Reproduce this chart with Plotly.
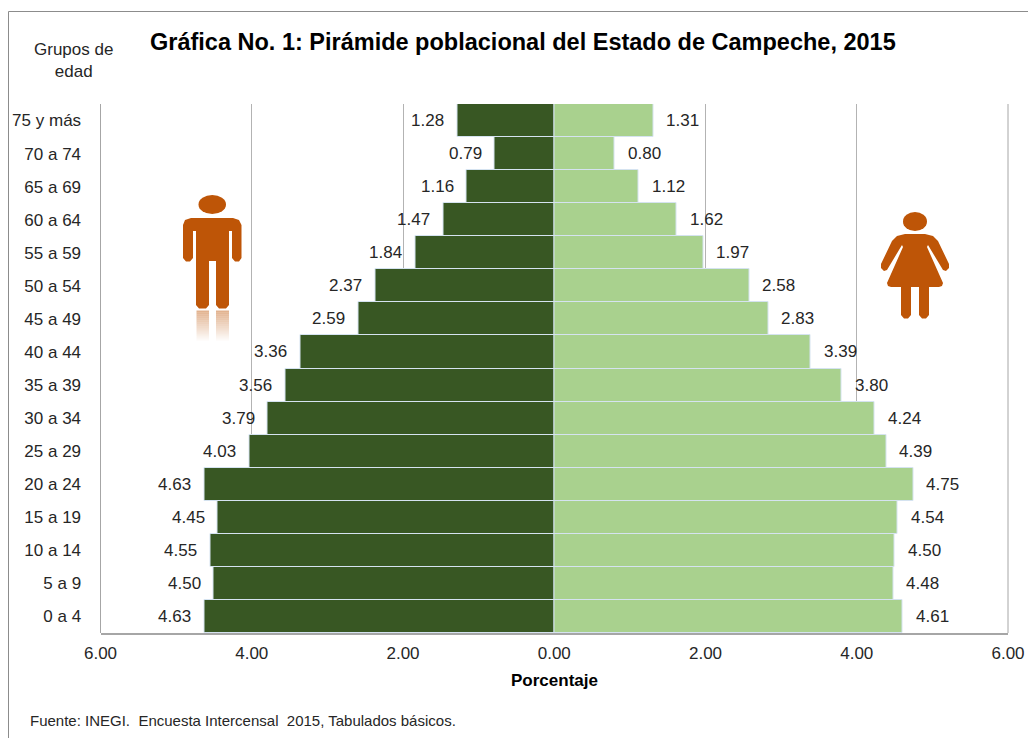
import plotly.graph_objects as go

W, H = 1028, 738

categories = ["0 a 4", "5 a 9", "10 a 14", "15 a 19", "20 a 24", "25 a 29", "30 a 34", "35 a 39",
              "40 a 44", "45 a 49", "50 a 54", "55 a 59", "60 a 64", "65 a 69", "70 a 74", "75 y más"]
hombres = [4.63, 4.50, 4.55, 4.45, 4.63, 4.03, 3.79, 3.56, 3.36, 2.59, 2.37, 1.84, 1.47, 1.16, 0.79, 1.28]
mujeres = [4.61, 4.48, 4.50, 4.54, 4.75, 4.39, 4.24, 3.80, 3.39, 2.83, 2.58, 1.97, 1.62, 1.12, 0.80, 1.31]
tick_values = [-6, -4, -2, 0, 2, 4, 6]
tick_labels = ["6.00", "4.00", "2.00", "0.00", "2.00", "4.00", "6.00"]

FONT = "Liberation Sans, Arial, sans-serif"
INK = "#262626"
ICON = "#BE5507"
DARK = "#385723"
LIGHT = "#A9D18E"
SIZE = 17


def px(x):
    return x / W


def py(y):
    return 1 - y / H


fig = go.Figure()
bar_line = dict(color="#D5E3F0", width=1)
fig.add_bar(y=categories, x=[-v for v in hombres], orientation="h", marker=dict(color=DARK, line=bar_line), name="Hombres")
fig.add_bar(y=categories, x=mujeres, orientation="h", marker=dict(color=LIGHT, line=bar_line), name="Mujeres")

annotations = []
for c, v in zip(categories, hombres):
    annotations.append(dict(x=-v, y=c, xref="x", yref="y", text=f"{v:.2f}", showarrow=False,
                            xanchor="right", xshift=-11, font=dict(size=SIZE, color=INK, family=FONT)))
for c, v in zip(categories, mujeres):
    annotations.append(dict(x=v, y=c, xref="x", yref="y", text=f"{v:.2f}", showarrow=False,
                            xanchor="left", xshift=11, font=dict(size=SIZE, color=INK, family=FONT)))


def note(x, y, text, size, weight="normal", color=INK, anchor="center"):
    annotations.append(dict(x=px(x), y=py(y), xref="paper", yref="paper", text=text, showarrow=False,
                            xanchor=anchor, yanchor="middle", align="center",
                            font=dict(size=size, color=color, family=FONT, weight=weight)))


note(523, 42, "Gráfica No. 1: Pirámide poblacional del Estado de Campeche, 2015", 23.5, "bold", "#000000")
note(73, 61, "Grupos de<br>edad", SIZE)
note(554, 680, "Porcentaje", SIZE, "bold", "#000000")
note(28, 720, "Fuente: INEGI.  Encuesta Intercensal  2015, Tabulados básicos.", 15, anchor="left")


def pshape(path):
    return dict(type="path", path=path, xref="paper", yref="paper", fillcolor=ICON, line=dict(width=0), layer="above")


def P(x, y):
    return f"{px(x):.5f},{py(y):.5f}"


def poly(points):
    return "M" + " L".join(P(x, y) for x, y in points) + " Z"


def vline(x, color, y0, y1):
    return dict(type="line", xref="paper", yref="paper", x0=px(x), x1=px(x), y0=py(y0), y1=py(y1), line=dict(color=color, width=1))


shapes = [
    vline(8.5, "#8C8C8C", 11.5, 738),
    dict(type="line", xref="paper", yref="paper", x0=px(8.5), x1=px(1028), y0=py(11.5), y1=py(11.5), line=dict(color="#8C8C8C", width=1)),
    vline(100.5, "#A6A6A6", 104, 633),
    vline(1008, "#A6A6A6", 104, 633),
]


def ellipse(x0, y0, x1, y1):
    return dict(type="circle", xref="paper", yref="paper", x0=px(x0), x1=px(x1), y0=py(y0), y1=py(y1),
                fillcolor=ICON, line=dict(width=0), layer="above")


# man icon
shapes.append(ellipse(198.5, 195, 226, 214))
shapes.append(pshape(poly([
    (191, 218), (233, 218), (239, 220), (241.5, 225), (241.5, 258), (239, 261.5), (235, 261.5), (232, 258),
    (232, 231), (229, 231), (229, 305), (226, 308.5), (219, 308.5), (216, 305), (216, 261), (209, 261),
    (209, 305), (206, 308.5), (199, 308.5), (196, 305), (196, 231), (193, 231), (193, 258), (190, 261.5),
    (186, 261.5), (183, 258), (183, 225), (185, 220)])))
# man reflection
steps = 15
for i in range(steps):
    op = 0.45 * (1 - i / steps)
    y0 = 310.5 + i * 2
    for a, b in ((196.5, 209), (216, 229)):
        shapes.append(dict(type="rect", xref="paper", yref="paper", x0=px(a), x1=px(b), y0=py(y0), y1=py(y0 + 2),
                           fillcolor=ICON, opacity=op, line=dict(width=0), layer="above"))
# woman icon
shapes.append(ellipse(903, 212, 927, 231))
half = [(925, 234), (933, 236), (938, 241), (949, 264), (949, 268), (946, 271), (943, 270), (928, 245),
        (927, 247), (943, 283), (942, 286), (939, 287), (929, 287), (929, 315), (926, 318.5), (922, 318.5),
        (919, 315), (919, 287)]
shapes.append(pshape(poly(half + [(1830 - x, y) for x, y in reversed(half)])))

fig.update_layout(
    width=W, height=H, margin=dict(l=0, r=0, t=0, b=0), autosize=False,
    paper_bgcolor="white", plot_bgcolor="white", showlegend=False,
    barmode="relative", bargap=0.0,
    font=dict(family=FONT, size=SIZE, color=INK),
    xaxis=dict(domain=[px(100.5), px(1008)], range=[-6, 6], tickvals=tick_values, ticktext=tick_labels,
               automargin=False, showgrid=True, gridcolor="#B3B3B3", gridwidth=1, zeroline=False, showline=True,
               linecolor="#A6A6A6", linewidth=1.5, ticks="outside", ticklen=4, tickcolor="rgba(0,0,0,0)",
               tickfont=dict(size=SIZE, color=INK, family=FONT)),
    yaxis=dict(domain=[py(633), py(104)], type="category", categoryorder="array", categoryarray=categories,
               automargin=False, showgrid=False, zeroline=False, showline=False, ticks="outside", ticklen=15,
               tickcolor="rgba(0,0,0,0)", tickfont=dict(size=SIZE, color=INK, family=FONT)),
    annotations=annotations, shapes=shapes,
)

fig.write_html("out.html", config={"displayModeBar": False},
               post_script="document.body.style.margin='0';document.body.style.overflow='hidden';")
